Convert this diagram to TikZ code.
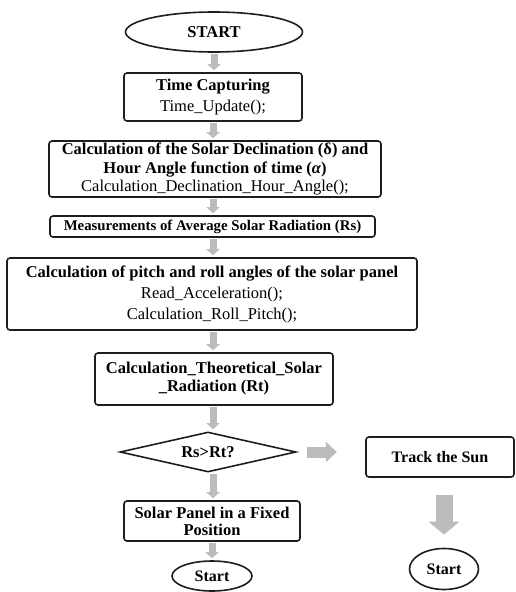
\documentclass[tikz,border=0pt]{standalone}
\usepackage{fontspec}
\setmainfont{Liberation Serif}
\usetikzlibrary{shapes.geometric,arrows.meta,calc}
\definecolor{agray}{RGB}{188,188,188}
\definecolor{bord}{RGB}{30,30,30}
\begin{document}
\begin{tikzpicture}[x=1pt,y=-1pt,
  box/.style={draw=bord, line width=1.6pt, rounded corners=3pt, inner sep=0pt, align=center, fill=white},
  oval/.style={draw=bord, line width=1.6pt, ellipse, inner sep=0pt, fill=white},
  dia/.style={draw=bord, line width=1.6pt, diamond, inner sep=0pt, fill=white},
  garrow/.style={draw=agray, line width=7pt, -{Triangle[width=13pt,length=6pt]}, shorten <=1pt, shorten >=2pt},
  harrow/.style={draw=agray, line width=11pt, -{Triangle[width=20pt,length=11pt]}},
  barrow/.style={draw=agray, line width=17pt, -{Triangle[width=30pt,length=13pt]}},
  fs/.style={font=\fontsize{16.5}{#1}\selectfont}
]
\useasboundingbox (0,0) rectangle (515,592);
\fill[white] (0,0) rectangle (515,592);

\node[oval, font=\fontsize{16.5}{20}\selectfont\bfseries, minimum width=177pt, minimum height=40pt] (start) at (214,32) {START};
\node[box, fs=21, minimum width=178pt, minimum height=48pt] (time) at (213,97)
  {\bfseries Time Capturing\\ Time\_Update();};
\node[box, fs=18.5, inner ysep=1.5pt, minimum width=332pt, minimum height=56pt] (decl) at (215,169)
  {\bfseries Calculation of the Solar Declination (δ) and\\ \bfseries Hour Angle function of time ({\itshape α})\\ Calculation\_Declination\_Hour\_Angle();};
\node[box, font=\fontsize{14.8}{17}\selectfont\bfseries, minimum width=325pt, minimum height=21pt] (meas) at (212.5,226.5)
  {Measurements of Average Solar Radiation (Rs)};
\node[box, fs=21, minimum width=410pt, minimum height=72pt] (pitch) at (212,294)
  {\bfseries Calculation of pitch and roll angles of the solar panel\\ Read\_Acceleration();\\ Calculation\_Roll\_Pitch();};
\node[box, font=\fontsize{16.5}{18}\selectfont\bfseries, minimum width=238pt, minimum height=52pt] (theo) at (214,379)
  {Calculation\_Theoretical\_Solar\\ \_Radiation (Rt)};
\node[dia, font=\fontsize{16.5}{20}\selectfont\bfseries, minimum width=176pt, minimum height=40pt, aspect=4.4] (dec) at (208,452)
  {Rs>Rt?};
\node[box, font=\fontsize{16}{20}\selectfont\bfseries, minimum width=148pt, minimum height=40pt] (track) at (440,457)
  {Track the Sun};
\node[box, font=\fontsize{16.5}{17}\selectfont\bfseries, minimum width=176pt, minimum height=40pt] (panel) at (212,521)
  {Solar Panel in a Fixed\\ Position};
\node[oval, font=\fontsize{16}{20}\selectfont\bfseries, minimum width=80pt, minimum height=30pt] (endL) at (212,576)
  {Start};
\node[oval, font=\fontsize{16}{20}\selectfont\bfseries, minimum width=69pt, minimum height=41pt] (endR) at (444,569)
  {Start};

\draw[garrow] (start.south) -- (start.south |- time.north);
\draw[garrow] (time.south) -- (time.south |- decl.north);
\draw[garrow] (time.south |- decl.south) -- (time.south |- meas.north);
\draw[garrow] (time.south |- meas.south) -- (time.south |- pitch.north);
\draw[garrow] (time.south |- pitch.south) -- (time.south |- theo.north);
\draw[garrow] (time.south |- theo.south) -- (time.south |- dec.north);
\draw[garrow] (time.south |- dec.south) -- (time.south |- panel.north);
\draw[garrow] (panel.south) -- (panel.south |- endL.north);
\coordinate (hs) at ($(dec.east)+(10,0)$);
\coordinate (he) at ($(dec.east)+(40,0)$);
\draw[harrow] (hs) -- (he);
\draw[barrow] ($(endR.north |- track.south)+(0,17)$) -- ($(endR.north)+(0,-13)$);
\end{tikzpicture}
\end{document}
